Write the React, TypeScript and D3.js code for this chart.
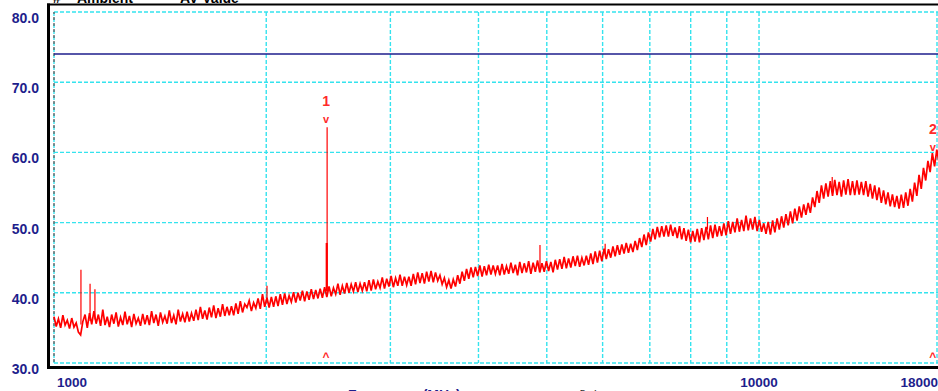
import React from "react";
import * as d3 from "d3";

const W = 938;
const H = 391;

// Y axis (dBµV/m)
const yTicks = [80, 70, 60, 50, 40, 30];
// X axis (MHz, log)
const xGridFreqs = [1000, 2000, 3000, 4000, 5000, 6000, 7000, 8000, 9000, 10000, 18000];
const xTickLabels = [1000, 10000, 18000];

// Limit line (AV limit)
const limitLevel = 74;

// Sweep: start/stop frequency, levels (log-spaced sweep points)
const sweepStartMHz = 1000;
const sweepStopMHz = 18000;
const traceLevels = [
  36.6, 35.2, 36.3, 35.0, 36.8, 35.4, 36.1, 34.9, 36.4, 35.1, 35.7, 34.4, 34.0, 35.9, 36.9, 35.0, 37.1, 35.5, 37.4, 35.6,
  36.9, 35.3, 37.6, 35.4, 36.6, 35.1, 36.9, 35.6, 37.2, 35.2, 36.5, 35.4, 37.3, 35.5, 36.7, 35.1, 37.0, 35.6, 36.4, 35.3,
  37.0, 35.5, 36.8, 35.4, 37.4, 35.7, 36.9, 35.3, 37.2, 35.8, 36.7, 35.6, 37.5, 35.7, 36.8, 35.5, 37.6, 35.9, 37.0, 35.8,
  37.3, 35.9, 37.1, 36.0, 37.6, 36.1, 38.0, 36.3, 37.5, 36.2, 37.9, 36.5, 38.2, 36.4, 37.8, 36.6, 38.4, 36.7, 38.0, 36.8,
  38.1, 36.8, 38.5, 37.0, 38.8, 37.2, 38.4, 37.9, 38.9, 37.4, 38.6, 37.8, 39.2, 37.7, 39.8, 38.0, 39.3, 37.9, 39.4, 38.0,
  39.5, 38.1, 39.8, 38.3, 39.9, 38.4, 39.6, 38.7, 40.1, 38.6, 40.0, 38.9, 40.3, 38.8, 40.2, 39.0, 40.5, 39.1, 40.4, 39.2,
  40.6, 39.3, 40.8, 39.4, 40.9, 39.5, 40.7, 39.8, 41.3, 39.7, 41.0, 39.9, 41.4, 40.0, 41.2, 40.2, 41.5, 40.1, 41.3, 40.3,
  41.5, 40.2, 41.8, 40.3, 41.9, 40.5, 41.6, 40.7, 42.2, 40.6, 42.0, 40.9, 42.4, 40.8, 42.1, 41.0, 42.6, 41.0, 42.3, 41.1,
  42.3, 41.0, 42.7, 41.2, 42.9, 41.4, 42.8, 41.3, 43.0, 41.6, 43.1, 41.5, 42.9, 41.7, 42.5, 41.2, 42.1, 40.8, 41.8, 40.6,
  41.9, 40.9, 42.5, 41.3, 43.0, 41.7, 43.4, 42.0, 43.6, 42.2, 43.7, 42.4, 43.9, 42.3, 43.8, 42.5, 44.0, 42.6, 43.9, 42.7,
  43.9, 42.5, 44.1, 42.6, 43.8, 42.7, 44.3, 42.8, 44.0, 42.5, 44.4, 42.8, 44.2, 42.9, 44.5, 42.7, 44.3, 43.0, 44.6, 42.9,
  44.2, 43.0, 44.5, 43.1, 44.4, 42.9, 44.7, 43.3, 44.8, 43.4, 45.1, 43.5, 44.9, 43.6, 45.2, 43.8, 45.3, 43.7, 45.0, 43.9,
  45.3, 44.0, 45.6, 44.1, 45.9, 44.3, 46.0, 44.5, 46.3, 44.8, 46.2, 45.0, 46.6, 45.2, 46.8, 45.4, 46.9, 45.6, 47.1, 45.7,
  47.0, 45.8, 47.4, 46.1, 47.8, 46.5, 48.3, 46.8, 48.6, 47.3, 49.1, 47.6, 49.4, 47.9, 49.5, 48.0, 49.6, 48.0, 49.7, 48.1,
  49.3, 47.8, 49.5, 47.6, 49.2, 47.4, 49.0, 47.2, 48.8, 47.3, 49.1, 47.2, 49.2, 47.5, 49.4, 47.6, 49.6, 47.8, 49.7, 48.0,
  49.5, 48.1, 49.9, 48.2, 50.2, 48.4, 50.1, 48.6, 50.6, 48.7, 50.4, 48.8, 51.0, 48.9, 50.6, 49.0, 50.8, 48.8, 50.4, 48.7,
  49.9, 48.4, 50.1, 48.3, 50.3, 48.6, 50.6, 49.0, 50.9, 49.3, 51.2, 49.6, 51.6, 49.9, 52.0, 50.3, 52.3, 50.7, 52.6, 51.1,
  52.8, 51.4, 53.6, 52.2, 54.5, 52.8, 55.3, 53.4, 55.6, 53.7, 55.9, 53.8, 56.1, 53.9, 55.8, 53.7, 56.0, 54.0, 56.2, 53.9,
  55.9, 53.9, 56.0, 54.0, 55.8, 53.9, 55.9, 53.7, 55.5, 53.4, 55.3, 53.2, 55.0, 52.8, 54.6, 52.6, 54.3, 52.3, 54.0, 52.2,
  53.8, 52.0, 54.0, 52.1, 54.3, 52.4, 54.8, 53.0, 55.7, 53.8, 56.8, 54.8, 57.8, 56.0, 58.8, 57.2, 59.9, 58.0, 60.4, 58.6,
];

// Narrow spikes: freq MHz, base dB, top dB, width px
const spikeFreqs = [1092, 1125, 1143, 2005, 2440, 2437, 4890, 6050, 8450, 12700];
const spikeBases = [35.5, 36.0, 36.2, 38.6, 40.2, 40.2, 43.4, 45.5, 49.0, 54.5];
const spikeTops = [43.3, 41.3, 40.5, 41.0, 63.6, 47.1, 46.8, 47.0, 50.8, 56.5];
const spikeWidths = [1.2, 1.2, 1.2, 1.2, 1.2, 2.2, 1.2, 1.2, 1.2, 1.2];

// Markers
const markerIds = ["1", "2"];
const markerFreqs = [2440, 17700];
const markerLevels = [63.6, 59.6];

export default function App() {
  const x = d3.scaleLog().domain([1000, 18000]).range([54, 939]);
  const y = d3.scaleLinear().domain([30, 80]).range([363, 12]);

  const n = traceLevels.length;
  const ratio = sweepStopMHz / sweepStartMHz;
  const traceData = traceLevels.map((v, i) => [sweepStartMHz * Math.pow(ratio, i / (n - 1)), v] as [number, number]);
  const line = d3
    .line<[number, number]>()
    .x((d) => x(d[0]))
    .y((d) => y(d[1]));

  const gridColor = "#35e3ee";
  const navy = "#1e1e8c";
  const red = "#ff0000";

  return (
    <svg
      width={W}
      height={H}
      style={{ position: "fixed", left: 0, top: 0, background: "#fff" }}
      fontFamily="'Liberation Sans', Arial, sans-serif"
    >
      <rect x={0} y={0} width={W} height={H} fill="#fff" />

      {/* legend (cut off at top, as in the source) */}
      <g fontSize={14} fontWeight="bold" fill="#000">
        <text x={53} y={3}>#</text>
        <line x1={63} x2={73} y1={-1} y2={-1} stroke="#000" strokeWidth={1.5} />
        <text x={77} y={3}>Ambient</text>
        <line x1={148} x2={173} y1={-1} y2={-1} stroke="#000" strokeWidth={1.5} strokeDasharray="5,3" />
        <text x={180} y={3}>AV Value</text>
      </g>

      {/* horizontal grid */}
      {yTicks.map((t) => (
        <line key={"h" + t} x1={54} x2={939} y1={y(t)} y2={y(t)} stroke={gridColor} strokeWidth={1.4} strokeDasharray="4,2" />
      ))}
      {/* vertical grid */}
      {xGridFreqs.map((f) => (
        <line key={"v" + f} x1={x(f) - (f === 18000 ? 2 : 0)} x2={x(f) - (f === 18000 ? 2 : 0)} y1={12} y2={363} stroke={gridColor} strokeWidth={1.4} strokeDasharray="4,2" />
      ))}
      <line x1={54} x2={54} y1={12} y2={363} stroke="#666" strokeWidth={1.4} strokeDasharray="3,3" strokeDashoffset={1} />

      {/* limit line */}
      <line x1={54} x2={939} y1={y(limitLevel)} y2={y(limitLevel)} stroke={navy} strokeWidth={1.5} />

      {/* trace */}
      <path d={line(traceData) || ""} fill="none" stroke={red} strokeWidth={1.7} strokeLinejoin="miter" />
      {spikeFreqs.map((f, i) => (
        <line key={"s" + i} x1={x(f)} x2={x(f)} y1={y(spikeBases[i])} y2={y(spikeTops[i])} stroke={red} strokeWidth={spikeWidths[i]} />
      ))}

      {/* markers */}
      {markerIds.map((id, i) => (
        <g key={"m" + id} fill="#ff2a2a" fontWeight="bold" textAnchor="middle">
          <text x={x(markerFreqs[i]) - 1} y={y(markerLevels[i]) - 21} fontSize={14}>{id}</text>
          <text x={x(markerFreqs[i]) - 1} y={y(markerLevels[i]) - 4} fontSize={11}>v</text>
          <text x={x(markerFreqs[i]) - 1} y={361} fontSize={12}>^</text>
        </g>
      ))}

      {/* frame */}
      <line x1={48.5} x2={48.5} y1={3.5} y2={369} stroke="#000" strokeWidth={3} />
      <line x1={47} x2={W} y1={4.5} y2={4.5} stroke="#000" strokeWidth={2} />
      <line x1={47} x2={W} y1={367.5} y2={367.5} stroke="#000" strokeWidth={3} />

      {/* y labels */}
      {yTicks.map((t) => (
        <text key={"yl" + t} x={39} y={y(t) + 6 + 5} fontSize={14} fontWeight="bold" fill={navy} textAnchor="end">
          {d3.format(".1f")(t)}
        </text>
      ))}

      {/* x labels */}
      {xTickLabels.map((f, i) => (
        <text
          key={"xl" + f}
          x={i === 0 ? x(f) + 3 : i === xTickLabels.length - 1 ? x(f) - 1 : x(f)}
          y={387}
          fontSize={13.5}
          fontWeight="bold"
          fill={navy}
          textAnchor={i === 0 ? "start" : i === xTickLabels.length - 1 ? "end" : "middle"}
        >
          {f}
        </text>
      ))}

      <text x={348} y={400} fontSize={14} fontWeight="bold" fill={navy}>Frequency (MHz)</text>
      <text x={580} y={395} fontSize={8} fontWeight="bold" fill="#333">Peaks:</text>
    </svg>
  );
}
